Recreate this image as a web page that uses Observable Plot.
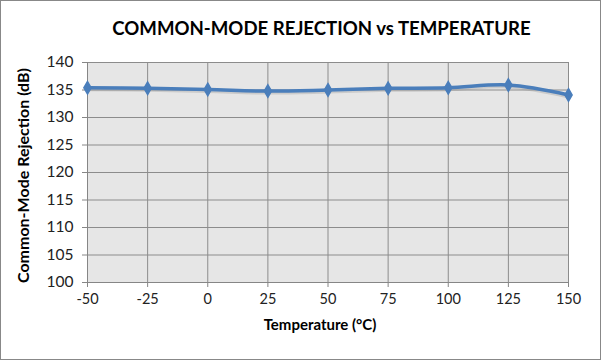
<!DOCTYPE html>
<html>
<head>
<meta charset="utf-8">
<script src="https://cdn.jsdelivr.net/npm/d3@7"></script>
<script src="https://cdn.jsdelivr.net/npm/@observablehq/plot@0.6"></script>
<style>
  body { margin: 0; background: #fff; }
  #wrap { position: relative; width: 599px; height: 358px; border: 1px solid #888; background: #fff; overflow: hidden; }
  #title { position: absolute; left: 42px; right: 0; top: 16px; text-align: center; font-family: Lato, "Open Sans", sans-serif; font-weight: bold; font-size: 18.6px; color: #000; }
  #chart { position: absolute; left: 0; top: 0; }
</style>
</head>
<body>
<div id="wrap">
  <div id="chart"></div>
  <div id="title">COMMON-MODE REJECTION vs TEMPERATURE</div>
</div>
<script>
const temperatures = [-50, -25, 0, 25, 50, 75, 100, 125, 150];
const rejection = [135.4, 135.3, 135.1, 134.8, 135.0, 135.3, 135.4, 135.9, 134.1];
const xTicks = [-50, -25, 0, 25, 50, 75, 100, 125, 150];
const yTicks = [100, 105, 110, 115, 120, 125, 130, 135, 140];

const data = temperatures.map((t, i) => ({t, v: rejection[i]}));
const blue = "#4a7ebb";
const fmt = d => String(d);

const plot = Plot.plot({
  width: 599,
  height: 358,
  marginLeft: 86,
  marginRight: 32,
  marginTop: 61,
  marginBottom: 77,
  style: {fontFamily: "Lato, 'Open Sans', sans-serif", fontSize: "14px", color: "#222", background: "transparent"},
  x: {domain: [-50, 150], ticks: xTicks, label: null},
  y: {domain: [100, 140], ticks: yTicks, label: null},
  marks: [
    Plot.frame({fill: "#e6e6e6", stroke: null}),
    Plot.gridX(xTicks, {stroke: "#8c8c8c", strokeOpacity: 1}),
    Plot.gridY(yTicks, {stroke: "#8c8c8c", strokeOpacity: 1}),
    Plot.ruleY([100], {stroke: "#868686"}),
    Plot.ruleX([-50], {stroke: "#868686"}),
    Plot.axisX({ticks: xTicks, tickFormat: fmt, stroke: "#868686", tickSize: 5, tickPadding: 6, fill: "#222", fontSize: 14.5, label: null}),
    Plot.axisY({ticks: yTicks, tickFormat: fmt, stroke: "#868686", tickSize: 5, tickPadding: 9, fill: "#222", fontSize: 15.5, label: null}),
    Plot.line(data, {x: "t", y: "v", curve: "catmull-rom", stroke: "#999", strokeOpacity: 0.35, strokeWidth: 3, dy: 2}),
    Plot.line(data, {x: "t", y: "v", curve: "catmull-rom", stroke: blue, strokeWidth: 3.5}),
    Plot.dot(data, {x: "t", y: "v", symbol: "diamond", r: 3.8, fill: blue, stroke: blue}),
    Plot.text(["Temperature (°C)"], {frameAnchor: "bottom", dx: -8, dy: 47, fontWeight: "bold", fontSize: 15, fill: "#000"}),
    Plot.text(["Common-Mode Rejection (dB)"], {frameAnchor: "left", textAnchor: "middle", dx: -64, dy: 3, rotate: -90, fontWeight: "bold", fontSize: 16, fill: "#000"})
  ]
});
document.getElementById("chart").appendChild(plot);
</script>
</body>
</html>
